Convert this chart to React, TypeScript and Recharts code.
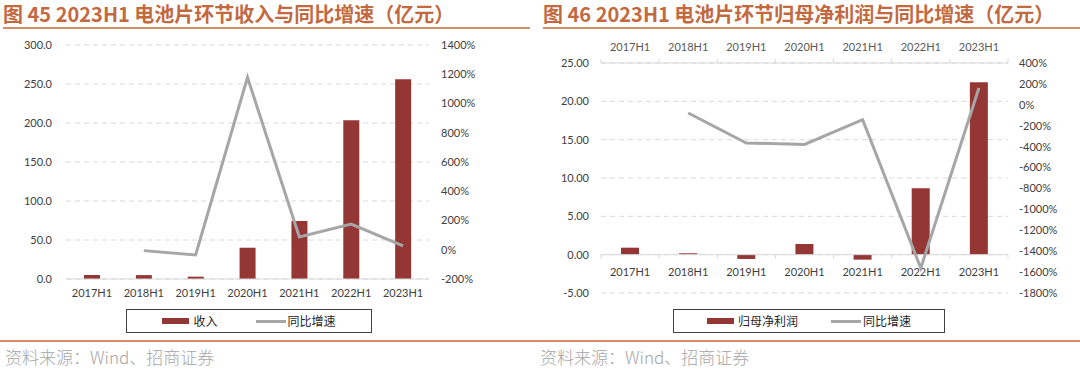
import React from 'react';
import { ComposedChart, Bar, Line, XAxis, YAxis, CartesianGrid, Legend, ReferenceLine } from 'recharts';

// ---------- data ----------
const categories = ['2017H1', '2018H1', '2019H1', '2020H1', '2021H1', '2022H1', '2023H1'];
const revenue = [5.1, 5.0, 3.0, 40.1, 74.5, 203.5, 256.0];
const revenueYoY: (number | null)[] = [null, -6, -36, 1179, 87, 176, 26];
const profit = [0.91, 0.18, -0.56, 1.39, -0.65, 8.66, 22.5];
const profitYoY: (number | null)[] = [null, -78, -365, -379, -142, -1562, 161];

const revLeftTicks = [0, 50, 100, 150, 200, 250, 300];
const revRightTicks = [-200, 0, 200, 400, 600, 800, 1000, 1200, 1400];
const profLeftTicks = [-5, 0, 5, 10, 15, 20, 25];
const profRightTicks = [-1800, -1600, -1400, -1200, -1000, -800, -600, -400, -200, 0, 200, 400];

const revenueName = '收入';
const profitName = '归母净利润';
const yoyName = '同比增速';
const title1 = '图 45 2023H1 电池片环节收入与同比增速（亿元）';
const title2 = '图 46 2023H1 电池片环节归母净利润与同比增速（亿元）';
const sourceText = '资料来源：Wind、招商证券';

const revenueData = categories.map((c, i) => ({ cat: c, value: revenue[i], yoy: revenueYoY[i] }));
const profitData = categories.map((c, i) => ({ cat: c, value: profit[i], yoy: profitYoY[i] }));

// ---------- styles ----------
const FONT = 'Lato, "Noto Sans", sans-serif';
const CJK = '"Noto Sans CJK SC", "Noto Sans", sans-serif';
const BAR = '#943634';
const LINE = '#A6A6A6';
const GRID = '#D9D9D9';
const TICK = '#404040';
const TITLE = '#C2693F';
const RULE = '#D58C69';

const tickStyle = { fill: TICK, fontSize: 11, fontFamily: FONT };

const makeLegend = (gap: number) => (props: any) => {
  const payload = [...(props.payload || [])].sort(
    (a: any, b: any) => (a.type === 'line' ? 1 : 0) - (b.type === 'line' ? 1 : 0)
  );
  return (
    <div
      style={{
        boxSizing: 'border-box',
        width: '100%',
        height: 24,
        border: '1px solid #404040',
        background: '#fff',
        display: 'flex',
        alignItems: 'center',
        justifyContent: 'center',
        gap,
        fontFamily: CJK,
        fontSize: 12,
        color: '#262626',
      }}
    >
      {payload.map((e: any) => (
        <div key={e.value} style={{ display: 'flex', alignItems: 'center' }}>
          {e.type === 'line' ? (
            <div style={{ width: 30, height: 3, background: e.color, marginRight: 2 }} />
          ) : (
            <div style={{ width: 27, height: 6, background: e.color, marginRight: 4 }} />
          )}
          <span style={{ lineHeight: '14px' }}>{e.value}</span>
        </div>
      ))}
    </div>
  );
};

const TopTick = (props: any) => {
  const { x, y, payload, index, visibleTicksCount } = props;
  const half = payload && typeof payload.offset === 'number' && payload.offset > 0 ? payload.offset : 29;
  const base = y + 12;
  return (
    <g>
      <text x={x} y={y} textAnchor="middle" fill="#595959" fontSize={11} fontFamily={FONT}>
        {payload.value}
      </text>
      <line x1={x - half} x2={x - half} y1={base} y2={base - 4} stroke={GRID} />
      {index === visibleTicksCount - 1 && <line x1={x + half} x2={x + half} y1={base} y2={base - 4} stroke={GRID} />}
    </g>
  );
};

const ZeroAxis = (props: any) => {
  const { x1, y1, x2 } = props;
  const n = categories.length;
  const step = (x2 - x1) / n;
  return (
    <g>
      <line x1={x1} y1={y1} x2={x2} y2={y1} stroke={GRID} strokeWidth={1} />
      {Array.from({ length: n + 1 }).map((_, i) => (
        <line key={i} x1={x1 + i * step} x2={x1 + i * step} y1={y1} y2={y1 + 4} stroke={GRID} />
      ))}
      {categories.map((c, i) => (
        <text key={c} x={x1 + (i + 0.5) * step} y={y1 + 21} textAnchor="middle" fill={TICK} fontSize={11} fontFamily={FONT}>
          {c}
        </text>
      ))}
    </g>
  );
};

const Title = ({ text, left }: { text: string; left: number }) => (
  <>
    <div
      style={{
        position: 'absolute',
        left: left + 3,
        top: 1,
        height: 25,
        lineHeight: '25px',
        fontFamily: CJK,
        fontWeight: 700,
        fontSize: 20,
        color: TITLE,
        whiteSpace: 'nowrap',
      }}
    >
      {text}
    </div>
    <div style={{ position: 'absolute', left: left + 3, top: 27, width: left ? 537 : 527, height: 2, background: RULE }} />
  </>
);

export default function App() {
  return (
    <div style={{ position: 'absolute', left: 0, top: 0, width: 1080, height: 371, background: '#fff', overflow: 'hidden' }}>
      <Title text={title1} left={0} />
      <Title text={title2} left={540} />

      {/* Left chart */}
      <div style={{ position: 'absolute', left: 0, top: 0 }}>
        <ComposedChart width={540} height={340} data={revenueData} margin={{ top: 45, right: 60, bottom: 40, left: 0 }}>
          <CartesianGrid yAxisId="l" vertical={false} stroke={GRID} strokeDasharray="5 4" />
          <XAxis
            dataKey="cat"
            interval={0}
            height={21}
            axisLine={{ stroke: GRID }}
            tickLine={false}
            tickSize={0}
            tickMargin={10}
            tick={tickStyle}
          />
          <YAxis
            yAxisId="l"
            width={66}
            domain={[0, 300]}
            ticks={revLeftTicks}
            interval={0}
            axisLine={false}
            tickLine={false}
            tickSize={0}
            tickMargin={14}
            tick={tickStyle}
            tickFormatter={(v: number) => v.toFixed(1)}
          />
          <YAxis
            yAxisId="r"
            orientation="right"
            width={51}
            domain={[-200, 1400]}
            ticks={revRightTicks}
            interval={0}
            axisLine={false}
            tickLine={false}
            tickSize={0}
            tickMargin={12}
            tick={{ ...tickStyle, textAnchor: 'start' }}
            tickFormatter={(v: number) => `${v}%`}
          />
          <Bar yAxisId="l" dataKey="value" name={revenueName} fill={BAR} barSize={16} isAnimationActive={false} legendType="rect" />
          <Line
            yAxisId="r"
            dataKey="yoy"
            name={yoyName}
            stroke={LINE}
            strokeWidth={3}
            dot={false}
            activeDot={false}
            type="linear"
            isAnimationActive={false}
            legendType="line"
          />
          <Legend
            layout="horizontal"
            verticalAlign="middle"
            align="center"
            content={makeLegend(38)}
            wrapperStyle={{ left: 126, top: 309, width: 246, height: 24 }}
          />
        </ComposedChart>
      </div>

      {/* Right chart */}
      <div style={{ position: 'absolute', left: 540, top: 0 }}>
        <ComposedChart width={540} height={340} data={profitData} margin={{ top: 43, right: 12, bottom: 47, left: 0 }}>
          <CartesianGrid yAxisId="l" vertical={false} stroke={GRID} strokeDasharray="5 4" />
          <XAxis
            dataKey="cat"
            orientation="top"
            interval={0}
            height={20}
            axisLine={{ stroke: GRID }}
            tickLine={false}
            tickSize={0}
            tickMargin={12}
            tick={<TopTick />}
          />
          <YAxis
            yAxisId="l"
            width={61}
            domain={[-5, 25]}
            ticks={profLeftTicks}
            interval={0}
            axisLine={false}
            tickLine={false}
            tickSize={0}
            tickMargin={12}
            tick={tickStyle}
            tickFormatter={(v: number) => v.toFixed(2)}
          />
          <YAxis
            yAxisId="r"
            orientation="right"
            width={60}
            domain={[-1800, 400]}
            ticks={profRightTicks}
            interval={0}
            axisLine={false}
            tickLine={false}
            tickSize={0}
            tickMargin={11}
            tick={{ ...tickStyle, textAnchor: 'start' }}
            tickFormatter={(v: number) => `${v}%`}
          />
          <ReferenceLine yAxisId="l" y={0} stroke={GRID} shape={(p: any) => <ZeroAxis {...p} />} />
          <Bar yAxisId="l" dataKey="value" name={profitName} fill={BAR} barSize={18} isAnimationActive={false} legendType="rect" />
          <Line
            yAxisId="r"
            dataKey="yoy"
            name={yoyName}
            stroke={LINE}
            strokeWidth={3}
            dot={false}
            activeDot={false}
            type="linear"
            isAnimationActive={false}
            legendType="line"
          />
          <Legend
            layout="horizontal"
            verticalAlign="middle"
            align="center"
            content={makeLegend(33)}
            wrapperStyle={{ left: 133, top: 309, width: 272, height: 24 }}
          />
        </ComposedChart>
      </div>

      <div style={{ position: 'absolute', left: 0, top: 340, width: 1080, height: 2, background: RULE }} />
      <div style={{ position: 'absolute', left: 5, top: 347, fontFamily: CJK, fontWeight: 300, fontSize: 17, lineHeight: '20px', color: '#A6A6A6', whiteSpace: 'nowrap' }}>
        {sourceText}
      </div>
      <div style={{ position: 'absolute', left: 540, top: 347, fontFamily: CJK, fontWeight: 300, fontSize: 17, lineHeight: '20px', color: '#A6A6A6', whiteSpace: 'nowrap' }}>
        {sourceText}
      </div>
    </div>
  );
}
